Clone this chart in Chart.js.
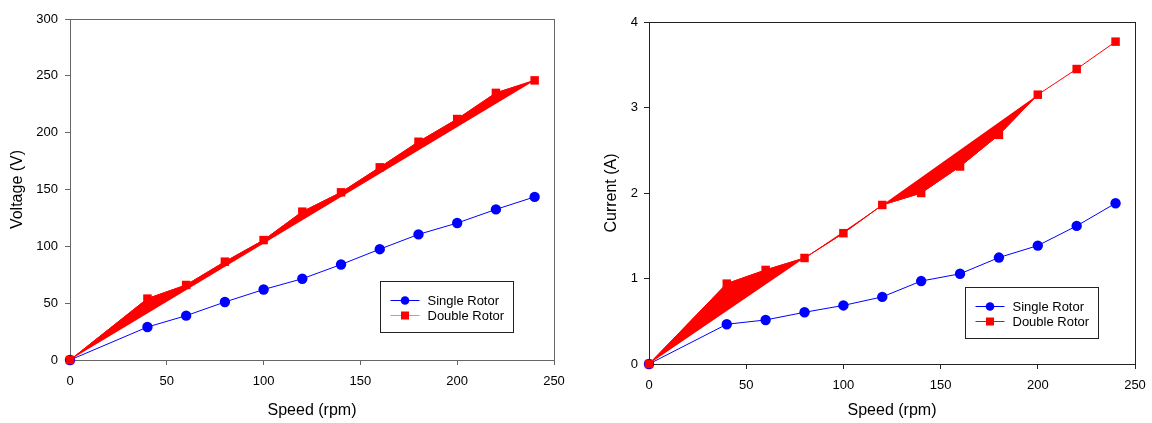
<!DOCTYPE html>
<html>
<head>
<meta charset="utf-8">
<script src="https://cdn.jsdelivr.net/npm/chart.js@4.4.1/dist/chart.umd.min.js"></script>
<style>
  html, body { margin: 0; padding: 0; background: #fff; }
  #wrap { display: flex; width: 1152px; height: 423px; }
  .cell { position: relative; width: 576px; height: 423px; }
</style>
</head>
<body>
<div id="wrap">
  <div class="cell"><canvas id="voltageChart"></canvas></div>
  <div class="cell"><canvas id="currentChart"></canvas></div>
</div>
<script>
// Rotor speed (rpm) at each measurement
const speed = [0, 40, 60, 80, 100, 120, 140, 160, 180, 200, 220, 240];

// Generated voltage (V)
const voltageSingle = [0, 29, 39, 51, 62, 71.5, 84, 97.5, 110.5, 120.5, 132.5, 143.5];
const voltageDouble = [0, 54, 66, 86.5, 105.5, 130.5, 147.5, 169.5, 192, 212, 235, 246];

// Load current (A)
const currentSingle = [0, 0.465, 0.515, 0.605, 0.685, 0.785, 0.97, 1.055, 1.245, 1.385, 1.615, 1.88];
const currentDouble = [0, 0.94, 1.1, 1.24, 1.53, 1.86, 2.0, 2.31, 2.68, 3.15, 3.45, 3.77];

// Index spans of the double-rotor trace that are drawn as closed, filled shapes
const voltageFillSpans = [[0, 11]];
const currentFillSpans = [[0, 3], [3, 5], [5, 9]];

// Axis ticks
const speedTicks = [0, 50, 100, 150, 200, 250];
const voltageTicks = [0, 50, 100, 150, 200, 250, 300];
const currentTicks = [0, 1, 2, 3, 4];

const FONT = "'Liberation Sans', Arial, Helvetica, sans-serif";
const BLUE = '#0000ff';
const RED = '#ff0000';

function points(xs, ys, from = 0, to = xs.length - 1) {
  const out = [];
  for (let i = from; i <= to; i++) out.push({ x: xs[i], y: ys[i] });
  return out;
}

// Closed frame round the plotting area
const framePlugin = {
  id: 'frame',
  beforeDatasetsDraw(chart, args, opts) {
    const { ctx, chartArea: a } = chart;
    ctx.save();
    ctx.strokeStyle = opts.color;
    ctx.lineWidth = 1;
    const l = Math.round(a.left) + 0.5, t = Math.round(a.top) + 0.5;
    const r = Math.round(a.right) + 0.5, b = Math.round(a.bottom) + 0.5;
    ctx.strokeRect(l, t, r - l, b - t);
    ctx.restore();
  }
};

// Boxed legend sitting inside the plotting area, lower right
const insetLegendPlugin = {
  id: 'insetLegend',
  afterDatasetsDraw(chart, args, opts) {
    const { ctx, chartArea: a } = chart;
    const items = chart.data.datasets.filter(d => d.inLegend);
    const w = 133, h = 51;
    const x = Math.round(a.right - opts.right - w) + 0.5;
    const y = Math.round(a.bottom - opts.bottom - h) + 0.5;
    ctx.save();
    ctx.fillStyle = '#fff';
    ctx.fillRect(x, y, w, h);
    ctx.strokeStyle = '#222';
    ctx.lineWidth = 1;
    ctx.strokeRect(x, y, w, h);
    ctx.font = '13px ' + FONT;
    ctx.textBaseline = 'middle';
    items.forEach((d, i) => {
      const cy = Math.round(y + 18 + i * 15.5);
      ctx.strokeStyle = (opts.lineColors && opts.lineColors[i]) || d.borderColor;
      ctx.beginPath();
      ctx.moveTo(x + 10, cy + 0.5);
      ctx.lineTo(x + 39, cy + 0.5);
      ctx.stroke();
      ctx.fillStyle = d.pointBackgroundColor;
      if (d.pointStyle === 'circle') {
        ctx.beginPath();
        ctx.arc(x + 24.5, cy + 0.5, 4.3, 0, Math.PI * 2);
        ctx.fill();
      } else {
        ctx.fillRect(x + 20.5, cy - 3.5, 8, 8);
      }
      ctx.fillStyle = '#000';
      ctx.fillText(d.label, x + 47, cy + 1);
    });
    ctx.restore();
  }
};

function makeChart(canvasId, cfg) {
  const datasets = [];
  // filled shapes of the double-rotor trace
  cfg.fillSpans.forEach(([s, e]) => {
    datasets.push({
      data: points(speed, cfg.double, s, e),
      borderColor: RED,
      backgroundColor: RED,
      borderWidth: 1,
      pointRadius: 0,
      fill: 'shape',
      clip: false,
      order: 3
    });
  });
  datasets.push({
    label: 'Single Rotor',
    inLegend: true,
    data: points(speed, cfg.single),
    borderColor: BLUE,
    backgroundColor: BLUE,
    pointBackgroundColor: BLUE,
    pointBorderColor: BLUE,
    pointStyle: 'circle',
    pointRadius: 5.2,
    pointBorderWidth: 0,
    borderWidth: 1,
    fill: false,
    clip: false,
    order: 2
  });
  datasets.push({
    label: 'Double Rotor',
    inLegend: true,
    data: points(speed, cfg.double),
    borderColor: RED,
    backgroundColor: RED,
    pointBackgroundColor: RED,
    pointBorderColor: RED,
    pointStyle: 'rect',
    pointRadius: 6,
    pointBorderWidth: 0,
    borderWidth: 1,
    fill: false,
    clip: false,
    order: 1
  });

  return new Chart(document.getElementById(canvasId), {
    type: 'line',
    data: { datasets },
    plugins: [framePlugin, insetLegendPlugin],
    options: {
      responsive: true,
      maintainAspectRatio: false,
      animation: false,
      layout: { padding: { left: 0, right: cfg.padRight, top: cfg.padTop, bottom: 0 } },
      plugins: {
        legend: { display: false },
        tooltip: { enabled: false },
        frame: { color: cfg.frameColor },
        insetLegend: { right: cfg.legendRight, bottom: cfg.legendBottom, lineColors: cfg.legendLineColors }
      },
      scales: {
        x: {
          type: 'linear',
          min: speedTicks[0],
          max: speedTicks[speedTicks.length - 1],
          afterBuildTicks: s => { s.ticks = speedTicks.map(v => ({ value: v })); },
          afterFit: s => { s.height = cfg.xAxisHeight; s.paddingLeft = 0; s.paddingRight = 0; },
          border: { display: false },
          grid: { drawOnChartArea: false, drawTicks: true, tickLength: 5, color: cfg.frameColor, lineWidth: 1 },
          ticks: { font: { family: FONT, size: 13 }, color: '#000', padding: 9, maxRotation: 0 },
          title: { display: true, text: 'Speed (rpm)', font: { family: FONT, size: 16 }, color: '#000', padding: { top: 0, bottom: 3 } }
        },
        y: {
          type: 'linear',
          min: cfg.yTicks[0],
          max: cfg.yTicks[cfg.yTicks.length - 1],
          afterBuildTicks: s => { s.ticks = cfg.yTicks.map(v => ({ value: v })); },
          afterFit: s => { s.width = cfg.yAxisWidth; },
          border: { display: false },
          grid: { drawOnChartArea: false, drawTicks: true, tickLength: 5, color: cfg.frameColor, lineWidth: 1 },
          ticks: { font: { family: FONT, size: 13 }, color: '#000', padding: cfg.yTickPad },
          title: { display: true, text: cfg.yTitle, font: { family: FONT, size: 16 }, color: '#000', padding: { top: cfg.yTitlePad, bottom: 0 } }
        }
      }
    }
  });
}

makeChart('voltageChart', {
  single: voltageSingle,
  double: voltageDouble,
  fillSpans: voltageFillSpans,
  yTicks: voltageTicks,
  yTitle: 'Voltage (V)',
  yTitlePad: 8,
  yTickPad: 7,
  yAxisWidth: 70,
  xAxisHeight: 63,
  padRight: 22,
  padTop: 19,
  frameColor: '#666',
  legendRight: 41,
  legendBottom: 28,
  legendLineColors: [null, '#ff8080']
});

makeChart('currentChart', {
  single: currentSingle,
  double: currentDouble,
  fillSpans: currentFillSpans,
  yTicks: currentTicks,
  yTitle: 'Current (A)',
  yTitlePad: 26,
  yTickPad: 6,
  yAxisWidth: 73,
  xAxisHeight: 59,
  padRight: 17,
  padTop: 22,
  frameColor: '#222',
  legendRight: 37,
  legendBottom: 26,
  legendLineColors: null
});
</script>
</body>
</html>
